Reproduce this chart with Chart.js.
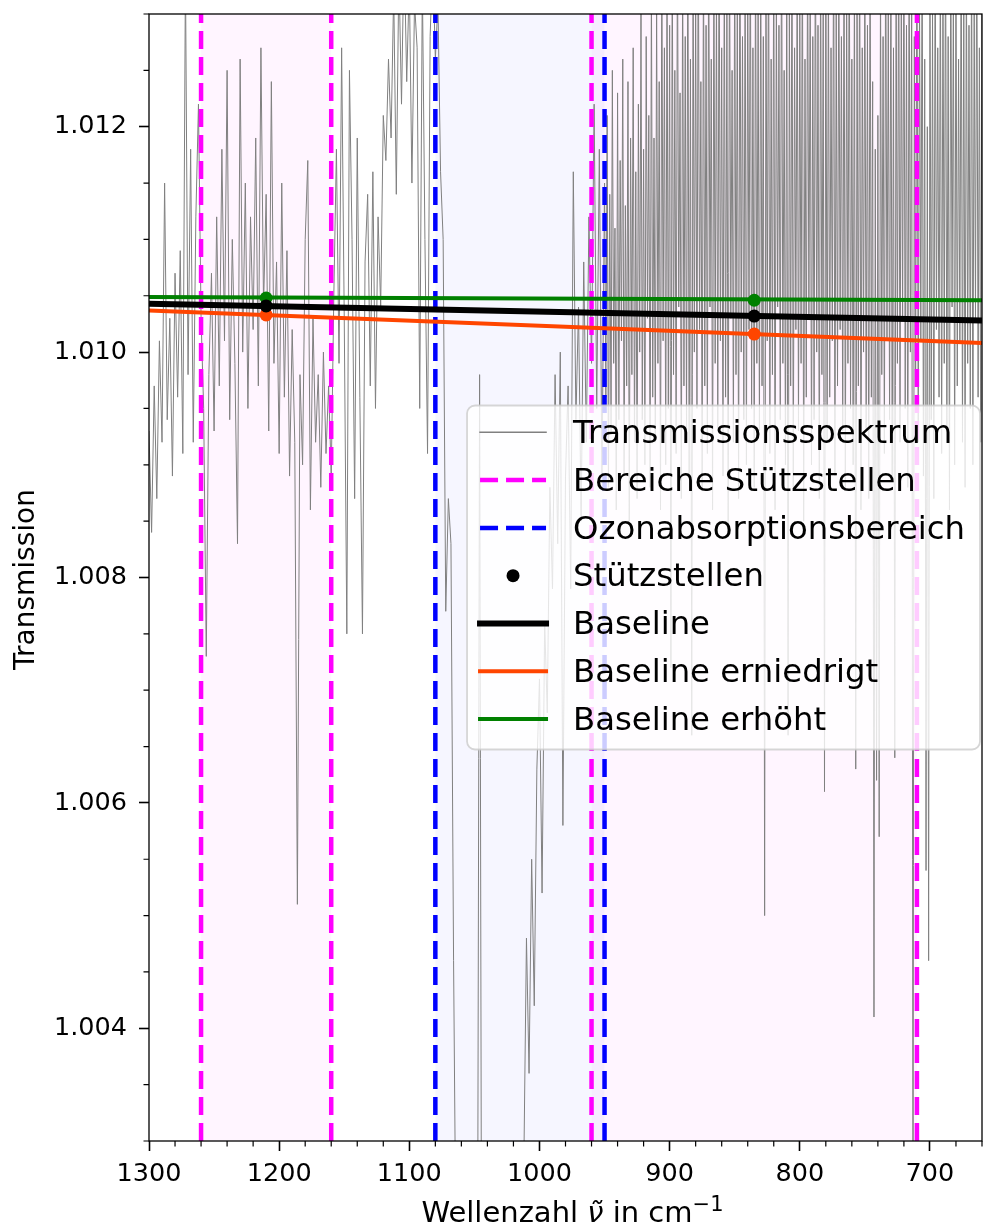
<!DOCTYPE html>
<html lang="de">

<head>
    <meta charset="UTF-8">
    <title>Transmissionsspektrum mit Baseline</title>
    <script src="https://cdn.jsdelivr.net/npm/chart.js"></script>
    <style>
        html, body { margin: 0; padding: 0; background: #ffffff; overflow: hidden; }
        #box_grafico { width: 983px; height: 1226px; }
        #canvas_spektrum { display: block; }
    </style>
</head>

<body>
    <div id="box_grafico">
        <canvas id="canvas_spektrum"></canvas>
    </div>
</body>

</html>
<script>
    // Achsen
    const xMin = 660, xMax = 1300;
    const yMin = 1.003, yMax = 1.013;
    const xTicks = [1300, 1200, 1100, 1000, 900, 800, 700];
    const yTicks = [1.004, 1.006, 1.008, 1.010, 1.012];
    const xNebenTicks = [1280, 1260, 1240, 1220, 1180, 1160, 1140, 1120, 1080, 1060, 1040, 1020,
        980, 960, 940, 920, 880, 860, 840, 820, 780, 760, 740, 720, 680, 660];
    const yNebenTicks = [1.003, 1.0035, 1.0045, 1.005, 1.0055, 1.0065, 1.007, 1.0075, 1.0085, 1.009,
        1.0095, 1.0105, 1.011, 1.0115, 1.0125, 1.013];

    // Bereiche (Wellenzahl)
    const stuetzBereiche = [1260, 1160, 960, 710];
    const ozonBereich = [1080, 950];

    // Stützstellen
    const stuetzX = [1210, 835];
    const stuetzY = [1.01041, 1.01032];
    const stuetzYniedrig = [1.01033, 1.01016];
    const stuetzYhoch = [1.01048, 1.01046];

    // Baselines (Endpunkte am Rand)
    const baselineX = [1300, 660];
    const baseline = [1.01043, 1.01028];
    const baselineNiedrig = [1.01037, 1.01008];
    const baselineHoch = [1.01049, 1.01046];

    // Transmissionsspektrum
    const wellenzahl = [
        1300, 1298, 1296, 1294, 1292, 1290, 1288, 1286, 1284, 1282,
        1280, 1278, 1276, 1274, 1272, 1270, 1268, 1266, 1264, 1262,
        1260, 1258, 1256, 1254, 1252, 1250, 1248, 1246, 1244, 1242,
        1240, 1238, 1236, 1234, 1232, 1230, 1228, 1226, 1224, 1222,
        1220, 1218, 1216, 1214, 1212, 1210, 1208, 1206, 1204, 1202,
        1200, 1198, 1196, 1194, 1192, 1190, 1188, 1186, 1184, 1182,
        1180, 1178, 1176, 1174, 1172, 1170, 1168, 1166, 1164, 1162,
        1160, 1158, 1156, 1154, 1152, 1150, 1148, 1146, 1144, 1142,
        1140, 1138, 1136, 1134, 1132, 1130, 1128, 1126, 1124, 1122,
        1120, 1118, 1116, 1114, 1112, 1110, 1108, 1106, 1104, 1102,
        1100, 1098, 1096, 1094, 1092, 1090, 1088, 1086, 1084, 1082,
        1080, 1078, 1076, 1074, 1072, 1070, 1068, 1066, 1064, 1062,
        1060, 1058, 1056, 1054, 1052, 1050, 1048, 1046, 1044, 1042,
        1040, 1038, 1036, 1034, 1032, 1030, 1028, 1026, 1024, 1022,
        1020, 1018, 1016, 1014, 1012, 1010, 1008, 1006, 1004, 1002,
        1000, 998, 996, 994, 992, 990, 988, 986, 984, 982,
        980, 978, 976, 974, 972, 970, 968, 966, 964, 962,
        960, 958, 956, 954, 952, 950,
        949, 948, 947, 946, 945, 944, 943, 942, 941, 940,
        939, 938, 937, 936, 935, 934, 933, 932, 931, 930,
        929, 928, 927, 926, 925, 924, 923, 922, 921, 920,
        919, 918, 917, 916, 915, 914, 913, 912, 911, 910,
        909, 908, 907, 906, 905, 904, 903, 902, 901, 900,
        899, 898, 897, 896, 895, 894, 893, 892, 891, 890,
        889, 888, 887, 886, 885, 884, 883, 882, 881, 880,
        879, 878, 877, 876, 875, 874, 873, 872, 871, 870,
        869, 868, 867, 866, 865, 864, 863, 862, 861, 860,
        859, 858, 857, 856, 855, 854, 853, 852, 851, 850,
        849, 848, 847, 846, 845, 844, 843, 842, 841, 840,
        839, 838, 837, 836, 835, 834, 833, 832, 831, 830,
        829, 828, 827, 826, 825, 824, 823, 822, 821, 820,
        819, 818, 817, 816, 815, 814, 813, 812, 811, 810,
        809, 808, 807, 806, 805, 804, 803, 802, 801, 800,
        799, 798, 797, 796, 795, 794, 793, 792, 791, 790,
        789, 788, 787, 786, 785, 784, 783, 782, 781, 780,
        779, 778, 777, 776, 775, 774, 773, 772, 771, 770,
        769, 768, 767, 766, 765, 764, 763, 762, 761, 760,
        759, 758, 757, 756, 755, 754, 753, 752, 751, 750,
        749, 748, 747, 746, 745, 744, 743, 742, 741, 740,
        739, 738, 737, 736, 735, 734, 733, 732, 731, 730,
        729, 728, 727, 726, 725, 724, 723, 722, 721, 720,
        719, 718, 717, 716, 715, 714, 713, 712, 711, 710,
        709, 708, 707, 706, 705, 704, 703, 702, 701, 700,
        699, 698, 697, 696, 695, 694, 693, 692, 691, 690,
        689, 688, 687, 686, 685, 684, 683, 682, 681, 680,
        679, 678, 677, 676, 675, 674, 673, 672, 671, 670,
        669, 668, 667, 666, 665, 664, 663, 662, 661, 660
    ];
    const transmission = [
        1.0093, 1.0084, 1.0097, 1.0087, 1.0101, 1.0092, 1.0115, 1.0094, 1.0103, 1.0089,
        1.0107, 1.0096, 1.0109, 1.0091, 1.0134, 1.0098, 1.0118, 1.0092, 1.0112, 1.0122,
        1.0103, 1.0095, 1.0073, 1.0098, 1.0107, 1.0093, 1.0112, 1.0097, 1.0118, 1.0101,
        1.0125, 1.0094, 1.0110, 1.0099, 1.0083, 1.0126, 1.0100, 1.0115, 1.0095, 1.0112,
        1.0102, 1.0119, 1.0097, 1.0127, 1.0104, 1.0114, 1.0093, 1.0124, 1.0099, 1.0108,
        1.0091, 1.0115, 1.0096, 1.0109, 1.0089, 1.0102, 1.0092, 1.0051, 1.0098, 1.0090,
        1.0110, 1.0117, 1.0086, 1.0103, 1.0092, 1.0098, 1.0088, 1.0100, 1.0091, 1.0097,
        1.0089, 1.0105, 1.0118, 1.0099, 1.0127, 1.0103, 1.0075, 1.0125, 1.0110, 1.0087,
        1.0119, 1.0096, 1.0075, 1.0108, 1.0114, 1.0097, 1.0116, 1.0095, 1.0112, 1.0104,
        1.0121, 1.0117, 1.0126, 1.0119, 1.0132, 1.0114, 1.0134, 1.0122, 1.0136, 1.0124,
        1.0133, 1.0115, 1.0131, 1.0127, 1.0095, 1.0133, 1.0110, 1.0091, 1.0128, 1.0135,
        1.0126, 1.0131, 1.0116, 1.0110, 1.0077, 1.0087, 1.0083, 1.0046, 1.0018, 1.0005,
        0.9990, 0.9985, 0.9980, 0.9978, 0.9982, 0.9988, 0.9995, 1.0098, 0.9990, 0.9980,
        0.9975, 0.9972, 0.9975, 0.9978, 0.9980, 0.9985, 0.9990, 0.9995, 1.0000, 1.0005,
        1.0010, 1.0015, 1.0020, 1.0024, 1.0028, 1.0048, 1.0036, 1.0055, 1.0042, 1.0063,
        1.0071, 1.0052, 1.0076, 1.0068, 1.0088, 1.0079, 1.0098, 1.0083, 1.0100, 1.0058,
        1.0089, 1.0097, 1.0079, 1.0116, 1.0094, 1.0104, 1.0085, 1.0108, 1.0092, 1.0112,
        1.0099, 1.0122, 1.0095, 1.0118, 1.0089, 1.0115,
        1.0096, 1.0121, 1.0088, 1.0114, 1.0093, 1.0125, 1.0099, 1.0111, 1.0086, 1.0123,
        1.0094, 1.0117, 1.0101, 1.0126, 1.0089, 1.0113, 1.0097, 1.0124, 1.0085, 1.0119,
        1.0098, 1.0127, 1.0092, 1.0116, 1.0087, 1.0122, 1.0100, 1.0130, 1.0094, 1.0118,
        1.0090, 1.0128, 1.0103, 1.0121, 1.0088, 1.0133, 1.0096, 1.0119, 1.0092, 1.0131,
        1.0099, 1.0124, 1.0086, 1.0136, 1.0101, 1.0127, 1.0090, 1.0134, 1.0095, 1.0129,
        1.0072, 1.0137, 1.0098, 1.0125, 1.0091, 1.0138, 1.0104, 1.0123, 1.0087, 1.0135,
        1.0097, 1.0128, 1.0093, 1.0139, 1.0089, 1.0126, 1.0066, 1.0136, 1.0100, 1.0131,
        1.0095, 1.0140, 1.0102, 1.0124, 1.0088, 1.0137, 1.0097, 1.0129, 1.0091, 1.0138,
        1.0104, 1.0126, 1.0086, 1.0135, 1.0099, 1.0132, 1.0093, 1.0139, 1.0101, 1.0127,
        1.0089, 1.0136, 1.0096, 1.0130, 1.0084, 1.0138, 1.0103, 1.0125, 1.0092, 1.0137,
        1.0098, 1.0131, 1.0087, 1.0140, 1.0100, 1.0128, 1.0094, 1.0135, 1.0090, 1.0133,
        1.0102, 1.0139, 1.0095, 1.0127, 1.0088, 1.0137, 1.0099, 1.0130, 1.0093, 1.0136,
        1.0097, 1.0128, 1.0050, 1.0134, 1.0101, 1.0139, 1.0091, 1.0126, 1.0098, 1.0137,
        1.0086, 1.0132, 1.0104, 1.0129, 1.0094, 1.0140, 1.0099, 1.0125, 1.0090, 1.0136,
        1.0066, 1.0131, 1.0097, 1.0138, 1.0088, 1.0127, 1.0102, 1.0135, 1.0093, 1.0130,
        1.0099, 1.0139, 1.0085, 1.0126, 1.0096, 1.0137, 1.0103, 1.0133, 1.0090, 1.0128,
        1.0094, 1.0140, 1.0100, 1.0129, 1.0087, 1.0136, 1.0098, 1.0131, 1.0061, 1.0138,
        1.0092, 1.0134, 1.0096, 1.0127, 1.0101, 1.0139, 1.0089, 1.0130, 1.0097, 1.0136,
        1.0102, 1.0128, 1.0093, 1.0137, 1.0088, 1.0131, 1.0099, 1.0139, 1.0095, 1.0126,
        1.0090, 1.0135, 1.0063, 1.0130, 1.0097, 1.0138, 1.0086, 1.0127, 1.0100, 1.0136,
        1.0093, 1.0129, 1.0087, 1.0137, 1.0096, 1.0124, 1.0041, 1.0118, 1.0062, 1.0121,
        1.0057, 1.0134, 1.0098, 1.0128, 1.0091, 1.0139, 1.0101, 1.0130, 1.0094, 1.0136,
        1.0089, 1.0127, 1.0064, 1.0135, 1.0099, 1.0138, 1.0092, 1.0131, 1.0103, 1.0137,
        1.0095, 1.0129, 1.0088, 1.0136, 1.0100, 1.0133, 1.0020, 1.0128, 1.0097, 1.0139,
        1.0092, 1.0131, 1.0101, 1.0137, 1.0089, 1.0126, 1.0054, 1.0120, 1.0046, 1.0135,
        1.0094, 1.0130, 1.0087, 1.0138, 1.0102, 1.0127, 1.0096, 1.0136, 1.0091, 1.0133,
        1.0099, 1.0139, 1.0093, 1.0128, 1.0086, 1.0137, 1.0104, 1.0131, 1.0090, 1.0135,
        1.0097, 1.0126, 1.0101, 1.0138, 1.0092, 1.0132, 1.0088, 1.0136, 1.0099, 1.0129,
        1.0095, 1.0137, 1.0090, 1.0131, 1.0103, 1.0139, 1.0096, 1.0127, 1.0092, 1.0134
    ];

    if (wellenzahl.length != transmission.length) {
        console.log('#ERRO: Spektrum hat ungleiche Längen', wellenzahl.length, transmission.length);
    }

    const legendEintraege = [
        { text: 'Transmissionsspektrum', art: 'linie', farbe: '#808080', breite: 1.5 },
        { text: 'Bereiche Stützstellen', art: 'strich', farbe: '#ff00ff', breite: 4.5 },
        { text: 'Ozonabsorptionsbereich', art: 'strich', farbe: '#0000ff', breite: 4.5 },
        { text: 'Stützstellen', art: 'punkt', farbe: '#000000' },
        { text: 'Baseline', art: 'linie', farbe: '#000000', breite: 6 },
        { text: 'Baseline erniedrigt', art: 'linie', farbe: '#ff4500', breite: 4 },
        { text: 'Baseline erhöht', art: 'linie', farbe: '#008000', breite: 4 }
    ];

    Chart.defaults.font.family = '"DejaVu Sans"';
    Chart.defaults.color = '#000000';

    function paare(xs, ys) {
        return xs.map((x, i) => ({ x: x, y: ys[i] }));
    }

    let datasets = [];

    datasets.push({
        label: 'Transmissionsspektrum',
        data: paare(wellenzahl, transmission),
        borderColor: '#808080',
        borderWidth: 1.0,
        pointRadius: 0,
        order: 50,
        clip: 0
    });

    stuetzBereiche.forEach(function (w) {
        datasets.push({
            label: 'Bereiche Stützstellen',
            data: [{ x: w, y: yMin }, { x: w, y: yMax }],
            borderColor: '#ff00ff',
            borderWidth: 4.5,
            borderDash: [18, 8],
            pointRadius: 0,
            order: 40,
            clip: 0
        });
    });

    ozonBereich.forEach(function (w) {
        datasets.push({
            label: 'Ozonabsorptionsbereich',
            data: [{ x: w, y: yMin }, { x: w, y: yMax }],
            borderColor: '#0000ff',
            borderWidth: 4.5,
            borderDash: [18, 8],
            pointRadius: 0,
            order: 40,
            clip: 0
        });
    });

    datasets.push({ label: 'Baseline', data: paare(baselineX, baseline), borderColor: '#000000', borderWidth: 6, pointRadius: 0, order: 32, clip: 0 });
    datasets.push({ label: 'Baseline erniedrigt', data: paare(baselineX, baselineNiedrig), borderColor: '#ff4500', borderWidth: 4, pointRadius: 0, order: 31, clip: 0 });
    datasets.push({ label: 'Baseline erhöht', data: paare(baselineX, baselineHoch), borderColor: '#008000', borderWidth: 4, pointRadius: 0, order: 30, clip: 0 });

    datasets.push({ label: 'Stützstellen', data: paare(stuetzX, stuetzY), showLine: false, pointRadius: 6.5, pointBorderWidth: 0, pointBackgroundColor: '#000000', order: 10, clip: 0 });
    datasets.push({ label: 'Stützstellen erniedrigt', data: paare(stuetzX, stuetzYniedrig), showLine: false, pointRadius: 6.5, pointBorderWidth: 0, pointBackgroundColor: '#ff4500', order: 10, clip: 0 });
    datasets.push({ label: 'Stützstellen erhöht', data: paare(stuetzX, stuetzYhoch), showLine: false, pointRadius: 6.5, pointBorderWidth: 0, pointBackgroundColor: '#008000', order: 10, clip: 0 });

    // schattierte Bereiche hinter den Daten
    const hintergrund = {
        id: 'hintergrund',
        beforeDatasetsDraw(chart) {
            const { ctx, chartArea: a, scales: { x } } = chart;
            ctx.save();
            ctx.beginPath();
            ctx.rect(a.left, a.top, a.width, a.height);
            ctx.clip();
            function spanne(w1, w2, farbe) {
                const p1 = x.getPixelForValue(w1), p2 = x.getPixelForValue(w2);
                ctx.fillStyle = farbe;
                ctx.fillRect(Math.min(p1, p2), a.top, Math.abs(p2 - p1), a.height);
            }
            spanne(stuetzBereiche[0], stuetzBereiche[1], 'rgba(255, 0, 255, 0.04)');
            spanne(stuetzBereiche[2], stuetzBereiche[3], 'rgba(255, 0, 255, 0.04)');
            spanne(ozonBereich[0], ozonBereich[1], 'rgba(0, 0, 255, 0.035)');
            ctx.restore();
        }
    };

    // Rahmen und kleine Ticks
    const rahmen = {
        id: 'rahmen',
        afterDatasetsDraw(chart) {
            const { ctx, chartArea: a, scales: { x, y } } = chart;
            ctx.save();
            ctx.strokeStyle = '#000000';
            ctx.lineWidth = 1.3;
            ctx.strokeRect(a.left, a.top, a.right - a.left, a.bottom - a.top);
            ctx.lineWidth = 1.2;
            ctx.beginPath();
            xNebenTicks.forEach(function (v) {
                const px = x.getPixelForValue(v);
                ctx.moveTo(px, a.bottom);
                ctx.lineTo(px, a.bottom + 5.5);
            });
            yNebenTicks.forEach(function (v) {
                const py = y.getPixelForValue(v);
                ctx.moveTo(a.left, py);
                ctx.lineTo(a.left - 5.5, py);
            });
            ctx.stroke();
            ctx.restore();
        }
    };

    // Achsentitel und Legende
    const beschriftung = {
        id: 'beschriftung',
        afterDraw(chart) {
            const { ctx, chartArea: a } = chart;
            ctx.save();
            ctx.fillStyle = '#000000';

            // x-Titel: Wellenzahl ν̃ in cm⁻¹
            const teile = [
                { t: 'Wellenzahl ', f: '29px "DejaVu Sans"', dy: 0 },
                { t: 'ν\u0303', f: 'italic 29px "DejaVu Sans"', dy: 0 },
                { t: ' in cm', f: '29px "DejaVu Sans"', dy: 0 },
                { t: '\u22121', f: '21px "DejaVu Sans"', dy: -11 }
            ];
            let gesamt = 0;
            teile.forEach(function (p) { ctx.font = p.f; p.w = ctx.measureText(p.t).width; gesamt += p.w; });
            let xx = (a.left + a.right) / 2 + 7 - gesamt / 2;
            ctx.textBaseline = 'alphabetic';
            ctx.textAlign = 'left';
            teile.forEach(function (p) {
                ctx.font = p.f;
                ctx.fillText(p.t, xx, 1222 + p.dy);
                xx += p.w;
            });

            // y-Titel
            ctx.save();
            ctx.font = '28px "DejaVu Sans"';
            ctx.translate(34, (a.top + a.bottom) / 2 + 2);
            ctx.rotate(-Math.PI / 2);
            ctx.textAlign = 'center';
            ctx.fillText('Transmission', 0, 0);
            ctx.restore();

            // Legende
            ctx.font = '32.3px "DejaVu Sans"';
            const maxText = Math.max(...legendEintraege.map(e => ctx.measureText(e.text).width));
            const breite = 13 + 66 + 27 + maxText + 15;
            const hoehe = 344;
            const rechts = a.right - 2;
            const links = rechts - breite;
            const oben = (a.top + a.bottom) / 2 - hoehe / 2;

            ctx.beginPath();
            if (ctx.roundRect) ctx.roundRect(links, oben, breite, hoehe, 8);
            else ctx.rect(links, oben, breite, hoehe);
            ctx.fillStyle = 'rgba(255, 255, 255, 0.8)';
            ctx.fill();
            ctx.strokeStyle = 'rgba(204, 204, 204, 0.8)';
            ctx.lineWidth = 1.8;
            ctx.stroke();

            legendEintraege.forEach(function (e, i) {
                const yy = oben + 26.8 + i * 47.8;
                const x0 = links + 13, x1 = x0 + 66;
                ctx.save();
                if (e.art == 'punkt') {
                    ctx.fillStyle = e.farbe;
                    ctx.beginPath();
                    ctx.arc((x0 + x1) / 2, yy, 6.5, 0, Math.PI * 2);
                    ctx.fill();
                } else {
                    ctx.strokeStyle = e.farbe;
                    ctx.lineWidth = e.breite;
                    if (e.art == 'strich') {
                        ctx.setLineDash([18, 8]);
                        ctx.lineCap = 'butt';
                    } else {
                        ctx.lineCap = 'square';
                    }
                    ctx.beginPath();
                    ctx.moveTo(x0, yy);
                    ctx.lineTo(x1, yy);
                    ctx.stroke();
                }
                ctx.restore();
                ctx.fillStyle = '#000000';
                ctx.textAlign = 'left';
                ctx.textBaseline = 'alphabetic';
                ctx.fillText(e.text, x1 + 27, yy + 10.7);
            });

            ctx.restore();
        }
    };

    function ohnePadding(s) {
        s.paddingLeft = 0;
        s.paddingRight = 0;
        s.paddingTop = 0;
        s.paddingBottom = 0;
    }

    new Chart(document.getElementById('canvas_spektrum'), {
        type: 'line',
        data: { datasets: datasets },
        options: {
            responsive: true,
            maintainAspectRatio: false,
            animation: false,
            devicePixelRatio: 1,
            layout: { autoPadding: false, padding: { top: 14, right: 1, bottom: 0, left: 0 } },
            plugins: {
                legend: { display: false },
                tooltip: { enabled: false }
            },
            elements: { line: { tension: 0 } },
            scales: {
                x: {
                    type: 'linear',
                    reverse: true,
                    min: xMin,
                    max: xMax,
                    border: { display: false },
                    grid: { drawOnChartArea: false, drawTicks: true, tickLength: 10, tickColor: '#000000', tickWidth: 1.6 },
                    ticks: {
                        font: { size: 25.5 },
                        color: '#000000',
                        padding: 8,
                        maxRotation: 0,
                        autoSkip: false,
                        callback: function (v) { return String(v); }
                    },
                    afterBuildTicks: function (s) { s.ticks = xTicks.map(v => ({ value: v })); },
                    afterFit: function (s) { s.height = 85; ohnePadding(s); }
                },
                y: {
                    type: 'linear',
                    min: yMin,
                    max: yMax,
                    border: { display: false },
                    grid: { drawOnChartArea: false, drawTicks: true, tickLength: 10, tickColor: '#000000', tickWidth: 1.6 },
                    ticks: {
                        font: { size: 25.5 },
                        color: '#000000',
                        padding: 12,
                        autoSkip: false,
                        callback: function (v) { return Number(v).toFixed(3); }
                    },
                    afterBuildTicks: function (s) { s.ticks = yTicks.map(v => ({ value: v })); },
                    afterFit: function (s) { s.width = 149; ohnePadding(s); }
                }
            }
        },
        plugins: [hintergrund, rahmen, beschriftung]
    });
</script>
